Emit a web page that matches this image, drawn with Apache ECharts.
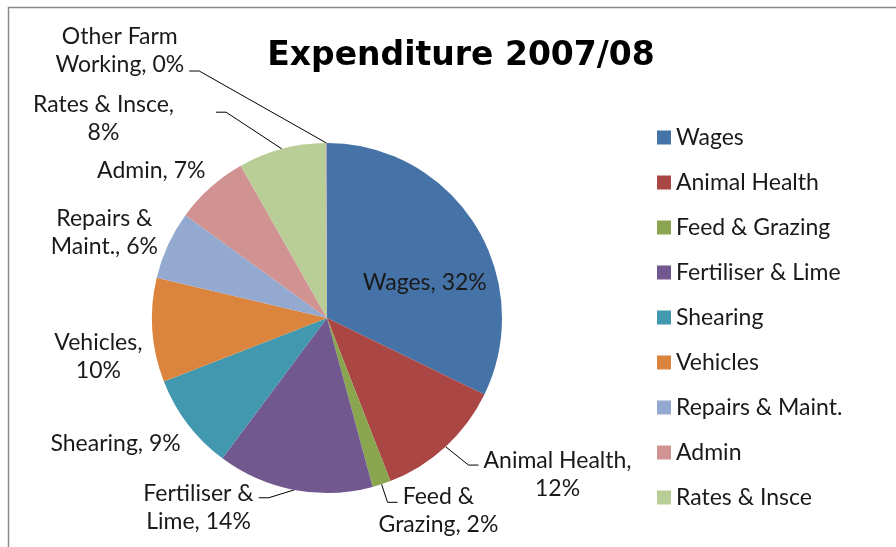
<!DOCTYPE html>
<html>
<head>
<meta charset="utf-8">
<title>Expenditure 2007/08</title>
<script src="https://cdn.jsdelivr.net/npm/echarts@6/dist/echarts.min.js"></script>
<style>
  html, body { margin: 0; padding: 0; background: #fff; }
  #chart { width: 896px; height: 547px; }
</style>
</head>
<body>
<div id="chart"></div>
<script>
  // slices, clockwise from 12 o'clock (percent of total spend)
  var categories = ['Wages', 'Animal Health', 'Feed & Grazing', 'Fertiliser & Lime', 'Shearing',
    'Vehicles', 'Repairs & Maint.', 'Admin', 'Rates & Insce', 'Other Farm Working']
  var values = [32.2, 11.9, 1.7, 14.4, 8.9, 9.6, 6.3, 6.8, 8.1, 0.1]
  var colors = ['#4572A7', '#AA4643', '#89A54E', '#71588F', '#4198AF',
    '#DB843D', '#93A9CF', '#D19392', '#B9CD96', '#A99BBD']
  // data label text, {p} is the rounded percent
  var labelText = ['Wages, {p}', 'Animal Health,\n{p}', 'Feed &\nGrazing, {p}', 'Fertiliser &\nLime, {p}',
    'Shearing, {p}', 'Vehicles,\n{p}', 'Repairs &\nMaint., {p}', 'Admin, {p}', 'Rates & Insce,\n{p}',
    'Other Farm\nWorking, {p}']
  // legend leaves out the last one, like the original
  var legendItems = categories.slice(0, 9)

  var FONT = 'Lato'

  // per-slice label placement: leader lengths and padding used to nudge the text
  var labelPlace = [
    { inside: true, pad: [26, 0, 0, 42] },
    { len: 25, len2: 16, pad: [20, 0, 0, 0] },
    { len: 19, len2: 10, pad: [16, 0, 0, 0], shiftX: -24 },
    { len: 8, len2: 34, pad: [20, 0, 0, 0] },
    { len: 0, len2: 0, noLine: true, pad: [40, 2, 0, 0] },
    { len: 0, len2: 0, noLine: true, pad: [52, 5, 0, 0] },
    { len: 0, len2: 0, noLine: true, pad: [0, 5, 24, 0] },
    { len: 0, len2: 0, noLine: true, pad: [0, 0, 33, 0] },
    { len: 38, len2: 56, pad: [12, 37, 0, 0] },
    { len: 72, len2: 137, pad: [0, 0, 41, 0] }
  ]

  var myChart = echarts.init(document.getElementById('chart'))

  var data = []
  for (var i = 0; i < categories.length; i++) {
    var pl = labelPlace[i]
    var item = {
      name: categories[i],
      value: values[i],
      itemStyle: { color: colors[i] },
      label: { padding: pl.pad },
      labelLine: { show: !pl.noLine, length: pl.len || 0, length2: pl.len2 || 0 }
    }
    if (pl.inside) item.label.position = 'inside'
    data.push(item)
  }

  var option = {
    backgroundColor: '#fff',
    animation: false,
    title: {
      text: 'Expenditure 2007/08',
      left: 456,
      top: 35,
      textAlign: 'center',
      textStyle: { fontFamily: 'DejaVu Sans', fontWeight: 'bold', fontSize: 33, color: '#000' }
    },
    legend: {
      data: legendItems,
      orient: 'vertical',
      left: 652,
      top: 121,
      icon: 'rect',
      itemWidth: 14,
      itemHeight: 14,
      itemGap: 22,
      textStyle: { fontFamily: FONT, fontSize: 23, color: '#1a1a1a' }
    },
    graphic: [{
      type: 'rect',
      shape: { x: 8.5, y: 7.5, width: 1000, height: 1000 },
      style: { fill: 'none', stroke: '#8a8a8a', lineWidth: 1.5 },
      silent: true
    }],
    series: [{
      type: 'pie',
      center: [327, 318],
      radius: 175,
      startAngle: 90,
      clockwise: true,
      avoidLabelOverlap: false,
      minShowLabelAngle: 0,
      data: data,
      label: {
        show: true,
        position: 'outside',
        alignTo: 'none',
        distanceToLabelLine: 5,
        fontFamily: FONT,
        fontSize: 23,
        color: '#1a1a1a',
        lineHeight: 28,
        formatter: function (p) {
          var txt = labelText[p.dataIndex].replace('{p}', Math.round(p.percent) + '%')
          return txt.split('\n').map(function (s) { return '{c|' + s + '}' }).join('\n')
        },
        rich: {
          c: { align: 'center', fontFamily: FONT, fontSize: 23, color: '#1a1a1a', lineHeight: 28 }
        }
      },
      labelLine: {
        smooth: false,
        lineStyle: { color: '#000', width: 1 }
      },
      // keep the leader end from the library, but bend it near the text like Excel does
      labelLayout: function (params) {
        var pl = labelPlace[params.dataIndex]
        var pts = params.labelLinePoints
        if (!pts || pl.noLine || pl.inside) return
        var p1 = pts[0]
        var p3 = pts[2]
        var sgn = p3[0] < p1[0] ? 1 : -1
        var out = { labelLinePoints: [p1, [p3[0] + sgn * 10, p3[1]], p3] }
        if (pl.shiftX) out.x = params.labelRect.x + pl.shiftX
        return out
      },
      emphasis: { disabled: true }
    }]
  }
  myChart.setOption(option)
</script>
</body>
</html>
